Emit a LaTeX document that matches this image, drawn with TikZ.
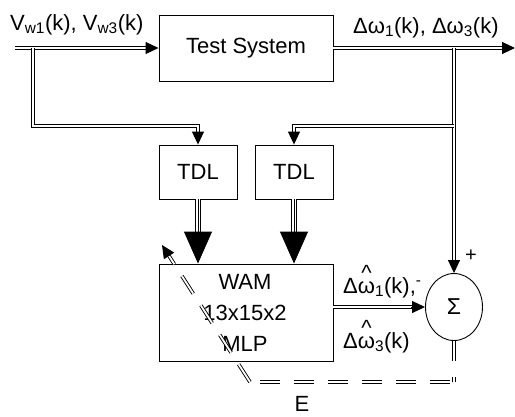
\documentclass[tikz,border=0pt]{standalone}
\usepackage{fontspec}
\setmainfont{Liberation Sans}
\usetikzlibrary{arrows.meta,shapes.geometric}
\newcommand{\hatw}{\leavevmode\vbox{\offinterlineskip\halign{\hfil##\hfil\cr\textasciicircum\cr\noalign{\kern0.5pt}ω\cr}}}
\begin{document}
\begin{tikzpicture}[x=1pt,y=-1pt,
  lbl/.style={font=\fontsize{22}{26}\selectfont, inner sep=0pt},
  box/.style={draw, line width=0.9pt, rectangle, inner sep=0pt, font=\fontsize{22}{26}\selectfont},
  dbl/.style={draw, line width=0.9pt, double, double distance=1.8pt},
  tipA/.style={line width=0.9pt, -{Triangle[length=13pt,width=12pt]}},
  tipB/.style={line width=0.9pt, -{Triangle[length=32pt,width=28pt]}},
  fat/.style={line width=1.4pt, double, double distance=3.5pt, shorten >=30pt}
  ]
\useasboundingbox (0,0) rectangle (515,416);
% blocks
\node[box, minimum width=174pt, minimum height=66pt] (ts) at (246,48) {Test System};
\node[box, minimum width=78pt, minimum height=54pt] (tdl1) at (198,172) {TDL};
\node[box, minimum width=78pt, minimum height=54pt] (tdl2) at (294,172) {TDL};
\node[box, minimum width=174pt, minimum height=97pt] (wam) at (246,312.5) {};
\node[lbl, align=center, font=\fontsize{22}{31}\selectfont] (wamtxt) at (245,313) {WAM\\13x15x2\\MLP};
\node[draw, ellipse, line width=0.9pt, minimum width=57pt, minimum height=67pt, inner sep=0pt, font=\fontsize{23}{26}\selectfont] (sig) at (454,307) {Σ};
% labels
\node[lbl, anchor=base west] (vin) at (10,30) {V\textsubscript{w1}(k), V\textsubscript{w3}(k)};
\node[lbl, anchor=base west] (vout) at (353,33) {Δω\textsubscript{1}(k), Δω\textsubscript{3}(k)};
\node[lbl, anchor=base west] (w1h) at (343,293) {Δ\hatw\textsubscript{1}(k),\textsuperscript{-}};
\node[lbl, anchor=base west] (w3h) at (343,348) {Δ\hatw\textsubscript{3}(k)};
\node[font=\fontsize{20}{22}\selectfont, inner sep=0pt] (plus) at (471,256) {+};
\node[lbl] (E) at (302,404) {E};
% coordinates
\coordinate (in) at (15,48);
\coordinate (out) at (515,48);
\coordinate (j1) at (33,48);
\coordinate (j1b) at (33,126);
\coordinate (j2) at (454,48);
\coordinate (j3) at (454,126);
\coordinate (e1) at (454,382);
\coordinate (e2) at (250,382);
\coordinate (etail) at (168.5,255.1);
\coordinate (etip) at (162,245);
% connectors
\draw[dbl, shorten >=12pt] (in) -- (ts.west);
\draw[tipA] ([xshift=-13pt]ts.west) -- (ts.west);
\draw[dbl, shorten >=12pt] (ts.east) -- (out);
\draw[tipA] ([xshift=-13pt]out) -- (out);
\draw[dbl, shorten >=12pt] (j1) -- (j1b) -- (j1b -| tdl1.north) -- (tdl1.north);
\draw[tipA] ([yshift=13pt]tdl1.north) -- (tdl1.north);
\draw[dbl, shorten >=12pt] (j2) -- (sig.north);
\draw[tipA] ([yshift=13pt]sig.north) -- (sig.north);
\draw[dbl, shorten >=12pt] (j3) -- (j3 -| tdl2.north) -- (tdl2.north);
\draw[tipA] ([yshift=13pt]tdl2.north) -- (tdl2.north);
\draw[fat] (tdl1.south) -- (tdl1.south |- wam.north);
\draw[tipB] (tdl1.south) -- (tdl1.south |- wam.north);
\draw[fat] (tdl2.south) -- (tdl2.south |- wam.north);
\draw[tipB] (tdl2.south) -- (tdl2.south |- wam.north);
\draw[dbl, shorten >=13pt] (wam.east |- sig.west) -- (sig.west);
\draw[tipA] ([xshift=-14pt]sig.west) -- (sig.west);
\draw[dbl, dash pattern=on 20pt off 16pt] (sig.south) -- (e1);
\draw[dbl, dash pattern=on 20pt off 14pt, dash phase=30pt] (e1) -- (e2);
\draw[dbl, dash pattern=on 21pt off 14pt] (e2) -- (etail);
\draw[tipA] (etail) -- (etip);
\end{tikzpicture}
\end{document}
